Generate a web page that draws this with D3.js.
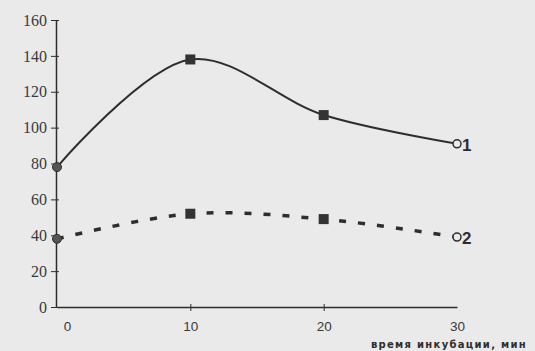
<!DOCTYPE html>
<html>
<head>
<meta charset="utf-8">
<script src="https://cdn.jsdelivr.net/npm/d3@7"></script>
<style>
  body { margin: 0; background: #eaeaea; }
  svg { display: block; }
</style>
</head>
<body>
<svg width="535" height="351"></svg>
<script>
// incubation time, min
const times = [0, 10, 20, 30];
const series1 = [78, 138, 107, 91];
const series2 = [38, 52, 49, 39];
const yTicks = [0, 20, 40, 60, 80, 100, 120, 140, 160];
const seriesLabels = ["1", "2"];
const axisTitle = "время инкубации, мин";

const svg = d3.select("svg");
const ink = "#2e2e2e";

svg.append("rect").attr("width", 535).attr("height", 351).attr("fill", "#eaeaea");

const x = d3.scaleLinear().domain([0, 30]).range([57, 457]);
const y = d3.scaleLinear().domain([0, 160]).range([307, 20]);

// y axis
const yAxis = svg.append("g")
    .attr("transform", `translate(${x(0) - 1},0)`)
    .call(d3.axisLeft(y).tickValues(yTicks).tickSize(0).tickPadding(9));
yAxis.select(".domain").attr("stroke", ink).attr("stroke-width", 1.5);
yAxis.selectAll("text")
    .attr("fill", "#3a3a3a")
    .style("font-family", "'Liberation Serif', serif")
    .style("font-size", "16px");
yAxis.selectAll(".tick").append("line")
    .attr("x1", -5).attr("x2", 3)
    .attr("stroke", ink).attr("stroke-width", 1);

// x axis
const xAxis = svg.append("g")
    .attr("transform", `translate(0,${y(0)})`)
    .call(d3.axisBottom(x).tickValues(times).tickSize(0).tickPadding(14));
xAxis.select(".domain").attr("stroke", ink).attr("stroke-width", 1.5);
xAxis.selectAll("text")
    .attr("fill", "#3a3a3a")
    .style("font-family", "'Liberation Sans', Arial, sans-serif")
    .style("font-size", "13.5px");
xAxis.selectAll(".tick").filter(d => d === 0).select("text").attr("dx", 10);
xAxis.selectAll(".tick").filter(d => d === 10 || d === 20).append("line")
    .attr("y1", -3).attr("y2", 4)
    .attr("stroke", ink).attr("stroke-width", 1);

svg.append("text")
    .attr("x", 527).attr("y", 348)
    .attr("text-anchor", "end")
    .attr("fill", ink)
    .style("font-family", "'DejaVu Sans', sans-serif")
    .style("font-size", "10px")
    .style("font-weight", "bold")
    .style("letter-spacing", "1.3px")
    .text(axisTitle);

const line = d3.line()
    .x((d, i) => x(times[i]))
    .y(d => y(d))
    .curve(d3.curveCatmullRom.alpha(0.5));

svg.append("path")
    .datum(series1)
    .attr("d", line)
    .attr("fill", "none")
    .attr("stroke", ink)
    .attr("stroke-width", 2);

svg.append("path")
    .datum(series2)
    .attr("d", line)
    .attr("fill", "none")
    .attr("stroke", ink)
    .attr("stroke-width", 3.5)
    .attr("stroke-dasharray", "7,12");

function drawMarkers(data) {
    data.forEach((v, i) => {
        const cx = x(times[i]), cy = y(v);
        if (i === 0) {
            svg.append("circle").attr("cx", cx).attr("cy", cy).attr("r", 4.5)
                .attr("fill", "#555").attr("stroke", ink).attr("stroke-width", 1);
        } else if (i === data.length - 1) {
            svg.append("circle").attr("cx", cx).attr("cy", cy).attr("r", 4)
                .attr("fill", "#eaeaea").attr("stroke", ink).attr("stroke-width", 1.5);
        } else {
            svg.append("rect").attr("x", cx - 5).attr("y", cy - 5)
                .attr("width", 10).attr("height", 10).attr("fill", "#333");
        }
    });
}
drawMarkers(series1);
drawMarkers(series2);

[series1, series2].forEach((s, k) => {
    svg.append("text")
        .attr("x", x(30) + 5).attr("y", y(s[s.length - 1]) + 7)
        .attr("fill", ink)
        .style("font-family", "'Liberation Sans', Arial, sans-serif")
        .style("font-size", "17px")
        .style("font-weight", "bold")
        .text(seriesLabels[k]);
});
</script>
</body>
</html>
